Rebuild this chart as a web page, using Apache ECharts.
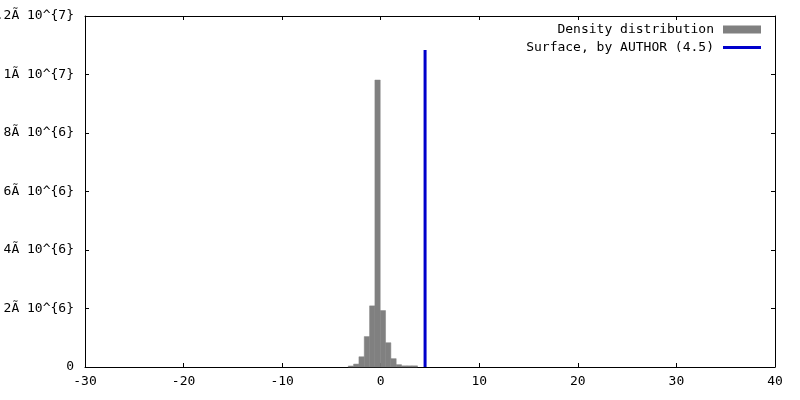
<!DOCTYPE html>
<html>
<head>
<meta charset="utf-8">
<script src="https://cdn.jsdelivr.net/npm/echarts@6/dist/echarts.min.js"></script>
<style>
  html, body { margin: 0; padding: 0; background: #fff; }
  #chart { width: 800px; height: 400px; }
</style>
</head>
<body>
<div id="chart"></div>
<script>
// histogram bins (left edge, shared width) and counts
var binLeft = [-3.29, -2.75, -2.21, -1.67, -1.13, -0.59, -0.05, 0.49, 1.03, 1.57, 2.11, 2.65, 3.19];
var binWidth = 0.54;
var binCounts = [35000, 100000, 350000, 1040000, 2090000, 9810000, 1930000, 830000, 285000, 80000, 40000, 40000, 40000];

// vertical line marking the surface position
var surfaceX = 4.5;
var surfaceTop = 10840000;

var yTickLabels = ["0", "2\u00c3 10^{6}", "4\u00c3 10^{6}", "6\u00c3 10^{6}", "8\u00c3 10^{6}", "1\u00c3 10^{7}", "1.2\u00c3 10^{7}"];

var font = "DejaVu Sans Mono";

var barData = binLeft.map(function (x, i) {
  return [x, x + binWidth, binCounts[i]];
});

var myChart = echarts.init(document.getElementById("chart"));

var tickStyle = { inside: true, length: 4, lineStyle: { color: "#000", width: 1 } };
var lineStyle = { show: true, onZero: false, lineStyle: { color: "#000", width: 1 } };

var option = {
  backgroundColor: "#fff",
  animation: false,
  grid: { left: 85, right: 25, top: 16, bottom: 33, containLabel: false, outerBoundsMode: "none" },
  legend: {
    orient: "vertical",
    right: 39,
    top: 23,
    padding: 0,
    align: "right",
    itemWidth: 38,
    itemHeight: 8,
    itemGap: 5,
    textStyle: { fontFamily: font, fontSize: 13, color: "#000", padding: [0, 4, 0, 0] },
    data: [
      { name: "Density distribution", icon: "rect" },
      { name: "Surface, by AUTHOR (4.5)", icon: "path://M0,0H38V3H0Z" }
    ]
  },
  xAxis: [
    {
      type: "value",
      min: -30,
      max: 40,
      interval: 10,
      axisLine: lineStyle,
      axisTick: tickStyle,
      splitLine: { show: false },
      axisLabel: { margin: 8, fontFamily: font, fontSize: 13, color: "#000" }
    },
    {
      type: "value",
      position: "top",
      min: -30,
      max: 40,
      interval: 10,
      axisLine: lineStyle,
      axisTick: tickStyle,
      splitLine: { show: false },
      axisLabel: { show: false }
    }
  ],
  yAxis: [
    {
      type: "value",
      min: 0,
      max: 12000000,
      interval: 2000000,
      axisLine: lineStyle,
      axisTick: tickStyle,
      splitLine: { show: false },
      axisLabel: {
        margin: 11,
        fontFamily: font,
        fontSize: 13,
        color: "#000",
        formatter: function (v, i) { return yTickLabels[i]; }
      }
    },
    {
      type: "value",
      position: "right",
      min: 0,
      max: 12000000,
      interval: 2000000,
      axisLine: lineStyle,
      axisTick: tickStyle,
      splitLine: { show: false },
      axisLabel: { show: false }
    }
  ],
  series: [
    {
      name: "Density distribution",
      type: "custom",
      itemStyle: { color: "#808080" },
      encode: { x: [0, 1], y: 2 },
      data: barData,
      renderItem: function (params, api) {
        var p0 = api.coord([api.value(0), api.value(2)]);
        var p1 = api.coord([api.value(1), 0]);
        return {
          type: "rect",
          shape: { x: p0[0], y: p0[1], width: p1[0] - p0[0], height: p1[1] - p0[1] },
          style: { fill: "#808080", stroke: "#808080", lineWidth: 0.5 }
        };
      }
    },
    {
      name: "Surface, by AUTHOR (4.5)",
      type: "line",
      symbol: "none",
      color: "#0000cc",
      itemStyle: { color: "#0000cc" },
      lineStyle: { color: "#0000cc", width: 3 },
      data: [[surfaceX, 0], [surfaceX, surfaceTop]],
      z: 5
    }
  ]
};
myChart.setOption(option);
</script>
</body>
</html>
